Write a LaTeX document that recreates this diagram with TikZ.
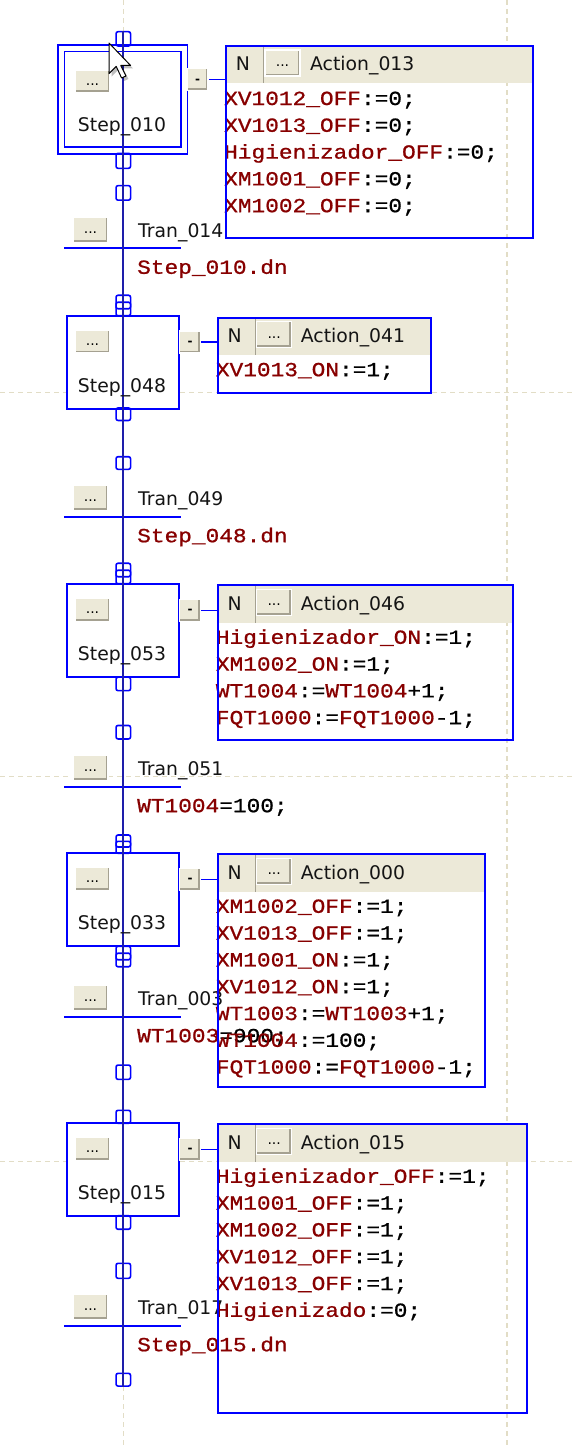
\documentclass[tikz,border=0pt]{standalone}
\usepackage{fontspec}
\setmainfont{DejaVu Sans}
\newfontfamily\codefont[FakeStretch=1.14, FakeBold=0.9]{Liberation Mono}
\usepackage{tikz}

\definecolor{boxblue}{RGB}{0,0,255}
\definecolor{lineblue}{RGB}{30,30,170}
\definecolor{codered}{RGB}{135,0,0}
\definecolor{hdrbeige}{RGB}{236,233,216}
\definecolor{btnface}{RGB}{236,233,216}
\definecolor{btnshadow}{RGB}{165,161,145}
\definecolor{gridbeige}{RGB}{226,221,198}
\definecolor{labelgray}{RGB}{20,20,20}

\newcommand{\idn}[1]{\textcolor{codered}{#1}}

\tikzstyle{gridline}=[gridbeige, line width=1.2pt, dash pattern=on 5pt off 4pt]
\tikzstyle{mainline}=[lineblue, line width=1.8pt]
\tikzstyle{boxline}=[boxblue, line width=1.6pt]
\tikzstyle{stepbox}=[draw=boxblue, line width=1.8pt, fill=white, minimum width=112.6pt, minimum height=93pt, inner sep=0pt]
\tikzstyle{initstep}=[stepbox, double=white, double distance=4.5pt, minimum width=123pt, minimum height=102.2pt]
\tikzstyle{tranbar}=[draw=boxblue, line width=1pt, minimum width=116pt, minimum height=0.8pt, inner sep=0pt, outer sep=0pt, fill=boxblue]
\tikzstyle{conn}=[draw=boxblue, line width=1.6pt, rounded corners=2pt, minimum width=14.5pt, minimum height=13.5pt, inner sep=0pt]
\tikzstyle{btn_bevel}=[
    {path picture={
        \draw[btnshadow, line width=4.5pt]
        (path picture bounding box.north east) --
        (path picture bounding box.south east) --
        (path picture bounding box.south west);
      }
    }
]
\tikzstyle{btn}=[fill=btnface, draw=white, line width=1.5pt, inner sep=0pt, minimum width=35pt, minimum height=23pt, text height=7pt, text depth=0pt, font=\fontsize{14}{14}\selectfont, btn_bevel]
\tikzstyle{minusbtn}=[btn, minimum width=21pt, minimum height=22pt, font=\fontsize{12}{12}\bfseries]
\tikzstyle{act_header}=[
    {path picture={
        \fill[hdrbeige]
        (path picture bounding box.north west) rectangle
        ([yshift=-37.5pt]path picture bounding box.north east);
        \draw[btnshadow, line width=1pt]
        ([xshift=38pt]path picture bounding box.north west) --
        ([xshift=38pt, yshift=-37.5pt]path picture bounding box.north west);
      }
    }
]
\tikzstyle{actbox}=[draw=boxblue, line width=1.8pt, anchor=north west, inner sep=0pt, act_header]
\tikzstyle{steptext}=[inner sep=0pt, anchor=base, text=labelgray, font=\fontsize{18.8}{22}\selectfont]
\tikzstyle{trantext}=[steptext, anchor=base west]
\tikzstyle{codetext}=[inner sep=0pt, anchor=base west, font=\fontsize{20}{24}\codefont]

\begin{document}
\begin{tikzpicture}[x=1pt, y=-1pt]
  \useasboundingbox (0,0) rectangle (573,1445);
  % grid
  \draw[gridline] (123.3,0) -- (123.3,1445);
  \draw[gridline] (507,0) -- (507,1445);
  \draw[gridline] (0,392.7) -- (573,392.7);
  \draw[gridline] (0,776.7) -- (573,776.7);
  \draw[gridline] (0,1161.7) -- (573,1161.7);

  % steps
  \node[initstep] (step010) at (122.85,99.4){};
  \node[stepbox] (step048) at (123,362.5){};
  \node[stepbox] (step053) at (123,630.8){};
  \node[stepbox] (step033) at (123,899.8){};
  \node[stepbox] (step015) at (123,1169.8){};

  % transitions
  \node[tranbar] (tran014) at (122,248.3){};
  \node[tranbar] (tran049) at (122,516.7){};
  \node[tranbar] (tran051) at (122,786.7){};
  \node[tranbar] (tran003) at (122,1016.7){};
  \node[tranbar] (tran017) at (122,1325.7){};

  % connectors on the chain
  \node[conn, minimum height=14.3pt] (c01) at (123.3,38.85){};
  \node[conn, minimum height=15pt] (c02) at (123.3,160.8){};
  \node[conn, minimum height=14.5pt] (c03) at (123.3,192.9){};
  \node[conn] (c04a) at (123.3,302){};
  \node[conn] (c04b) at (123.3,309){};
  \node[conn, minimum height=12.5pt] (c05) at (123.3,414.2){};
  \node[conn, minimum height=12.6pt] (c06) at (123.3,463){};
  \node[conn] (c07a) at (123.3,570){};
  \node[conn] (c07b) at (123.3,577){};
  \node[conn] (c08) at (123.3,683.9){};
  \node[conn] (c09) at (123.3,732.2){};
  \node[conn, minimum height=12pt] (c10a) at (123.3,841){};
  \node[conn, minimum height=12pt] (c10b) at (123.3,847.3){};
  \node[conn] (c11a) at (123.3,953){};
  \node[conn] (c11b) at (123.3,960){};
  \node[conn, minimum height=14.3pt] (c12) at (123.3,1072.2){};
  \node[conn, minimum height=13pt] (c13) at (123.3,1116.8){};
  \node[conn] (c14) at (123.3,1222.5){};
  \node[conn, minimum height=15pt] (c15) at (123.3,1270.8){};
  \node[conn, minimum height=12.7pt] (c16) at (123.3,1379.7){};
  \draw[mainline] (c01.north) -- (c16.south);

  % step buttons and names
  \node[btn, minimum height=22pt] (b010) at (92.5,81.7){...};
  \node[btn] (b048) at (92.5,341.5){...};
  \node[btn] (b053) at (92.5,609.8){...};
  \node[btn] (b033) at (92.5,878.8){...};
  \node[btn] (b015) at (92.5,1148.8){...};
  \node[steptext] (l010) at (122,131){Step\_010};
  \node[steptext] (l048) at (122,392.5){Step\_048};
  \node[steptext] (l053) at (122,660.8){Step\_053};
  \node[steptext] (l033) at (122,929.8){Step\_033};
  \node[steptext] (l015) at (122,1199.8){Step\_015};

  % transition buttons, names and conditions
  \node[btn, minimum height=25pt] (tb014) at (90.5,229.8){...};
  \node[btn, minimum height=25pt] (tb049) at (90.5,498.2){...};
  \node[btn, minimum height=25pt] (tb051) at (90.5,768.2){...};
  \node[btn, minimum height=25pt] (tb003) at (90.5,998.2){...};
  \node[btn, minimum height=25pt] (tb017) at (90.5,1307.2){...};
  \node[trantext] (tl014) at (138,237){Tran\_014};
  \node[trantext] (tl049) at (138,505.4){Tran\_049};
  \node[trantext] (tl051) at (138,775.4){Tran\_051};
  \node[trantext] (tl003) at (138,1005.4){Tran\_003};
  \node[trantext] (tl017) at (138,1314.4){Tran\_017};
  \node[codetext] (tc014) at (137,273.8){\idn{Step\_010.dn}};
  \node[codetext] (tc049) at (137,542.2){\idn{Step\_048.dn}};
  \node[codetext] (tc051) at (137,812.2){\idn{WT1004}=100;};
  \node[codetext] (tc003) at (137,1042.2){\idn{WT1003}=900;};
  \node[codetext] (tc017) at (137,1351.2){\idn{Step\_015.dn}};

  % action code
  \node[codetext] (a013l1) at (224,105){\idn{XV1012\_OFF}:=0;};
  \node[codetext] (a013l2) at (224,131.8){\idn{XV1013\_OFF}:=0;};
  \node[codetext] (a013l3) at (224,158.6){\idn{Higienizador\_OFF}:=0;};
  \node[codetext] (a013l4) at (224,185.4){\idn{XM1001\_OFF}:=0;};
  \node[codetext] (a013l5) at (224,212.2){\idn{XM1002\_OFF}:=0;};
  \node[codetext] (a041l1) at (215.7,376.2){\idn{XV1013\_ON}:=1;};
  \node[codetext] (a046l1) at (215.7,643.8){\idn{Higienizador\_ON}:=1;};
  \node[codetext] (a046l2) at (215.7,670.6){\idn{XM1002\_ON}:=1;};
  \node[codetext] (a046l3) at (215.7,697.4){\idn{WT1004}:=\idn{WT1004}+1;};
  \node[codetext] (a046l4) at (215.7,724.2){\idn{FQT1000}:=\idn{FQT1000}-1;};
  \node[codetext] (a000l1) at (215.7,912.8){\idn{XM1002\_OFF}:=1;};
  \node[codetext] (a000l2) at (215.7,939.6){\idn{XV1013\_OFF}:=1;};
  \node[codetext] (a000l3) at (215.7,966.4){\idn{XM1001\_ON}:=1;};
  \node[codetext] (a000l4) at (215.7,993.2){\idn{XV1012\_ON}:=1;};
  \node[codetext] (a000l5) at (215.7,1020){\idn{WT1003}:=\idn{WT1003}+1;};
  \node[codetext] (a000l6) at (215.7,1046.8){\idn{WT1004}:=100;};
  \node[codetext] (a000l7) at (215.7,1073.6){\idn{FQT1000}:=\idn{FQT1000}-1;};
  \node[codetext] (a015l1) at (215.7,1182.8){\idn{Higienizador\_OFF}:=1;};
  \node[codetext] (a015l2) at (215.7,1209.6){\idn{XM1001\_OFF}:=1;};
  \node[codetext] (a015l3) at (215.7,1236.4){\idn{XM1002\_OFF}:=1;};
  \node[codetext] (a015l4) at (215.7,1263.2){\idn{XV1012\_OFF}:=1;};
  \node[codetext] (a015l5) at (215.7,1290){\idn{XV1013\_OFF}:=1;};
  \node[codetext] (a015l6) at (215.7,1316.8){\idn{Higienizado}:=0;};

  % action blocks
  \node[actbox, minimum width=306.7pt, minimum height=192.3pt] (act013) at (225,45){};
  \node[actbox, minimum width=213.3pt, minimum height=75.6pt] (act041) at (216.7,316.7){};
  \node[actbox, minimum width=295.6pt, minimum height=154.7pt] (act046) at (216.7,584.3){};
  \node[actbox, minimum width=267.6pt, minimum height=232.4pt] (act000) at (216.7,853.3){};
  \node[actbox, minimum width=309.3pt, minimum height=289pt] (act015) at (216.7,1123.3){};
  \node[steptext] (n013) at (243,70.7){N};
  \node[steptext] (n041) at (234.7,342.4){N};
  \node[steptext] (n046) at (234.7,610){N};
  \node[steptext] (n000) at (234.7,879){N};
  \node[steptext] (n015) at (234.7,1149){N};
  \node[btn, minimum height=26pt] (hb013) at (282.5,63){...};
  \node[btn, minimum height=26pt] (hb041) at (274.2,334.7){...};
  \node[btn, minimum height=26pt] (hb046) at (274.2,602.3){...};
  \node[btn, minimum height=26pt] (hb000) at (274.2,871.3){...};
  \node[btn, minimum height=26pt] (hb015) at (274.2,1141.3){...};
  \node[trantext] (al013) at (310,70.7){Action\_013};
  \node[trantext] (al041) at (300.7,342.4){Action\_041};
  \node[trantext] (al046) at (300.7,610){Action\_046};
  \node[trantext] (al000) at (300.7,879){Action\_000};
  \node[trantext] (al015) at (300.7,1149){Action\_015};

  % step to action links
  \node[minusbtn] (m010) at (197.5,79.5){-};
  \node[minusbtn] (m048) at (190,342){-};
  \node[minusbtn] (m053) at (190,610.3){-};
  \node[minusbtn] (m033) at (190,879.3){-};
  \node[minusbtn] (m015) at (190,1149.3){-};
  \draw[boxline] (m010.east) -- (m010.east -| act013.west);
  \draw[boxline] (m048.east) -- (m048.east -| act041.west);
  \draw[boxline] (m053.east) -- (m053.east -| act046.west);
  \draw[boxline] (m033.east) -- (m033.east -| act000.west);
  \draw[boxline] (m015.east) -- (m015.east -| act015.west);

  % mouse pointer
  \fill[black, opacity=0.25] (111.5,46) -- (111.5,76.6) -- (118.7,69.4) -- (124.1,81) -- (128.5,79) -- (123.2,68.5) -- (133.1,68.5) -- cycle;
  \filldraw[fill=white, draw=black, line width=1pt, line join=round] (109,43) -- (109,73.6) -- (116.2,66.4) -- (121.6,78) -- (126,76) -- (120.7,65.5) -- (130.6,65.5) -- cycle;
\end{tikzpicture}
\end{document}
